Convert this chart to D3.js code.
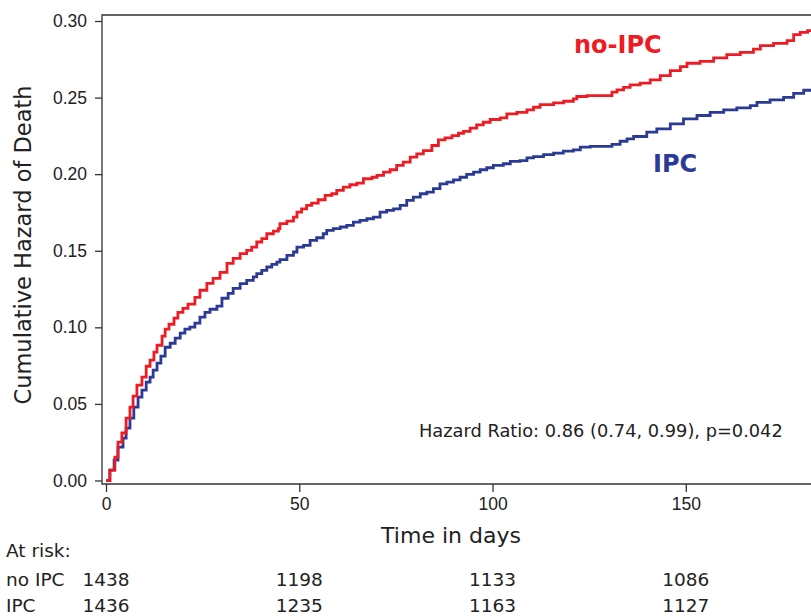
<!DOCTYPE html>
<html>
<head>
<meta charset="utf-8">
<script src="https://cdn.jsdelivr.net/npm/d3@7"></script>
<style>
  body { margin: 0; background: #fff; }
  svg { display: block; font-family: "DejaVu Sans", sans-serif; }
  .axis text { font-size: 17.5px; fill: #222; }
  .axis line { stroke: #333; stroke-width: 1.3; }
</style>
</head>
<body>
<div id="chart"></div>
<script>
// cumulative hazard (days, hazard)
var days_noIPC = [0, 1.0, 2.3, 3.1, 4.1, 5.2, 6.2, 7.0, 8.0, 9.3, 10.4, 11.4, 12.4, 13.2, 14.5, 15.3, 16.3, 17.6, 18.6, 19.9,
  21.2, 23.0, 24.3, 26.1, 27.7, 29.5, 31.3, 32.9, 34.7, 36.4, 37.7, 39.0, 40.3, 41.6, 43.3, 44.6, 45.0, 46.8, 48.5, 49.4,
  50.6, 51.9, 53.2, 54.9, 56.7, 58.4, 59.7, 61.4, 63.1, 64.9, 66.6, 68.8, 70.1, 71.8, 73.5, 75.2, 76.9, 78.7, 80.4, 82.1,
  84.3, 86.0, 87.7, 89.5, 91.2, 92.5, 94.2, 95.9, 97.6, 99.4, 102.0, 103.7, 106.3, 108.9, 110.6, 112.3, 115.8, 118.4, 120.9,
  121.8, 124.4, 130.9, 132.2, 133.9, 135.6, 138.2, 140.8, 143.4, 146.0, 148.6, 150.3, 153.7, 157.2, 160.6, 164.1, 167.5,
  169.3, 172.7, 176.2, 177.9, 179.6, 181.5, 190];
var haz_noIPC = [0, 0.0068, 0.0153, 0.0251, 0.031, 0.0407, 0.0479, 0.0551, 0.0623, 0.0675, 0.0746, 0.0786, 0.0838, 0.0883,
  0.0942, 0.0988, 0.102, 0.106, 0.1098, 0.1124, 0.1151, 0.1196, 0.1242, 0.1287, 0.132, 0.1359, 0.1418, 0.145, 0.1481, 0.1503,
  0.1524, 0.1557, 0.1579, 0.1611, 0.1628, 0.1644, 0.1677, 0.1694, 0.172, 0.1752, 0.1774, 0.1796, 0.1811, 0.1833, 0.1861,
  0.1872, 0.1894, 0.1915, 0.1931, 0.1941, 0.197, 0.198, 0.1992, 0.2013, 0.2029, 0.2057, 0.2078, 0.2111, 0.2133, 0.2154,
  0.2187, 0.2224, 0.2237, 0.2252, 0.2267, 0.228, 0.23, 0.2322, 0.2339, 0.2357, 0.2368, 0.2394, 0.2404, 0.242, 0.2437, 0.2454,
  0.2465, 0.2476, 0.2492, 0.2507, 0.2513, 0.2535, 0.255, 0.2567, 0.2583, 0.2595, 0.2615, 0.2643, 0.2676, 0.2702, 0.2724,
  0.2737, 0.2759, 0.278, 0.2795, 0.2817, 0.2839, 0.2854, 0.2872, 0.2911, 0.2926, 0.2937, 0.2937];

var days_IPC = [0, 1.0, 2.1, 3.1, 4.4, 5.2, 6.2, 7.2, 8.3, 9.3, 10.4, 11.4, 12.2, 13.2, 14.2, 15.3, 16.6, 17.9, 19.2, 20.4,
  21.7, 23.0, 24.3, 25.6, 26.9, 28.7, 30.0, 31.6, 32.9, 34.7, 36.4, 38.1, 39.0, 40.3, 41.6, 42.9, 44.2, 45.0, 46.8, 48.5,
  49.4, 51.1, 52.8, 54.5, 56.2, 57.1, 58.8, 60.6, 62.3, 64.0, 65.7, 67.5, 69.2, 70.9, 72.6, 74.4, 76.1, 77.8, 79.5, 81.3,
  83.0, 84.7, 86.4, 88.2, 89.9, 91.6, 93.3, 95.1, 96.8, 98.5, 100.2, 102.8, 104.6, 107.1, 108.9, 110.6, 113.2, 115.8, 118.3,
  120.9, 122.7, 125.3, 130.9, 133.0, 134.8, 136.5, 139.9, 142.5, 146.0, 149.4, 152.9, 156.3, 159.8, 163.2, 166.7, 168.4,
  171.8, 175.3, 177.9, 180.5, 190];
var haz_IPC = [0, 0.0068, 0.0134, 0.0218, 0.0277, 0.0342, 0.0407, 0.0479, 0.0544, 0.059, 0.0642, 0.0675, 0.072, 0.0766,
  0.0812, 0.087, 0.0896, 0.0929, 0.0962, 0.0988, 0.1001, 0.1027, 0.1066, 0.1098, 0.1118, 0.1138, 0.119, 0.1222, 0.1255,
  0.1286, 0.1307, 0.1329, 0.1351, 0.1372, 0.1394, 0.1411, 0.1426, 0.1442, 0.147, 0.1492, 0.1524, 0.1535, 0.1568, 0.1585,
  0.1611, 0.1633, 0.1644, 0.1655, 0.1666, 0.1687, 0.1698, 0.1709, 0.172, 0.1752, 0.1763, 0.1774, 0.1796, 0.1829, 0.185,
  0.1872, 0.1883, 0.1905, 0.1937, 0.1948, 0.1963, 0.198, 0.1998, 0.2013, 0.2029, 0.2042, 0.2057, 0.2068, 0.2083, 0.2089,
  0.2107, 0.2115, 0.2128, 0.2137, 0.215, 0.2159, 0.2176, 0.2181, 0.2194, 0.2215, 0.2231, 0.2246, 0.2274, 0.2296, 0.2329,
  0.2361, 0.2383, 0.2404, 0.242, 0.2433, 0.2448, 0.2469, 0.2485, 0.2502, 0.2528, 0.2548, 0.2548];

var x_ticks = [0, 50, 100, 150];
var y_ticks = [0, 0.05, 0.10, 0.15, 0.20, 0.25, 0.30];
var risk_noIPC = [1438, 1198, 1133, 1086];
var risk_IPC = [1436, 1235, 1163, 1127];

var red = "#ed1c24", blue = "#2b3a94";

var svg = d3.select("#chart").append("svg")
  .attr("width", 811)
  .attr("height", 616);

var x = d3.scaleLinear().domain([0, 150]).range([106, 685.8]);
var y = d3.scaleLinear().domain([0, 0.3]).range([480.5, 21]);

var frameLeft = 102, frameTop = 15, frameBottom = 484;

// curves
var line = d3.line()
  .x(function(d) { return x(d[0]); })
  .y(function(d) { return y(d[1]); })
  .curve(d3.curveStepAfter);

var series = [
  {days: days_noIPC, haz: haz_noIPC, color: red},
  {days: days_IPC, haz: haz_IPC, color: blue}
];
// draw IPC first so red overlaps at start like the picture
series.slice().reverse().forEach(function(s){
  var data = s.days.map(function(d, i){ return [d, s.haz[i]]; });
  svg.append("path")
    .datum(data)
    .attr("fill", "none")
    .attr("stroke", s.color)
    .attr("stroke-width", 2.8)
    .attr("stroke-linejoin", "miter")
    .attr("d", line);
});

// frame (top, left, bottom; right side runs off the page)
svg.append("path")
  .attr("d", "M830," + frameTop + "H" + frameLeft + "V" + frameBottom + "H830")
  .attr("fill", "none")
  .attr("stroke", "#333")
  .attr("stroke-width", 1.3);

// axes
var yAxis = svg.append("g")
  .attr("class", "axis")
  .attr("transform", "translate(" + frameLeft + ",0)")
  .call(d3.axisLeft(y).tickValues(y_ticks).tickSize(7).tickPadding(8).tickFormat(d3.format(".2f")));
yAxis.select(".domain").remove();

var xAxis = svg.append("g")
  .attr("class", "axis")
  .attr("transform", "translate(0," + frameBottom + ")")
  .call(d3.axisBottom(x).tickValues(x_ticks).tickSize(8).tickPadding(6).tickFormat(d3.format("d")));
xAxis.select(".domain").remove();

// axis titles
svg.append("text")
  .attr("transform", "translate(31,245) rotate(-90)")
  .attr("text-anchor", "middle")
  .style("font-size", "22.5px")
  .attr("fill", "#222")
  .text("Cumulative Hazard of Death");

svg.append("text")
  .attr("x", 451).attr("y", 543)
  .attr("text-anchor", "middle")
  .style("font-size", "22px")
  .attr("fill", "#222")
  .text("Time in days");

// group labels
svg.append("text")
  .attr("x", 574).attr("y", 53)
  .style("font-size", "24px").style("font-weight", "bold")
  .attr("fill", red)
  .text("no-IPC");
svg.append("text")
  .attr("x", 653).attr("y", 172)
  .style("font-size", "24px").style("font-weight", "bold")
  .attr("fill", blue)
  .text("IPC");

svg.append("text")
  .attr("x", 419).attr("y", 437)
  .style("font-size", "17.8px")
  .attr("fill", "#222")
  .text("Hazard Ratio: 0.86 (0.74, 0.99), p=0.042");

// at risk table
var riskFont = "18.5px";
svg.append("text")
  .attr("x", 6).attr("y", 557)
  .style("font-size", riskFont).attr("fill", "#222")
  .text("At risk:");

[["no IPC", risk_noIPC, 586], ["IPC", risk_IPC, 612]].forEach(function(r){
  svg.append("text")
    .attr("x", 6).attr("y", r[2])
    .style("font-size", riskFont).attr("fill", "#222")
    .text(r[0]);
  svg.selectAll(null)
    .data(r[1])
    .enter()
    .append("text")
    .attr("x", function(d, i){ return x(x_ticks[i]); })
    .attr("y", r[2])
    .attr("text-anchor", "middle")
    .style("font-size", riskFont).attr("fill", "#222")
    .text(function(d){ return d; });
});
</script>
</body>
</html>
